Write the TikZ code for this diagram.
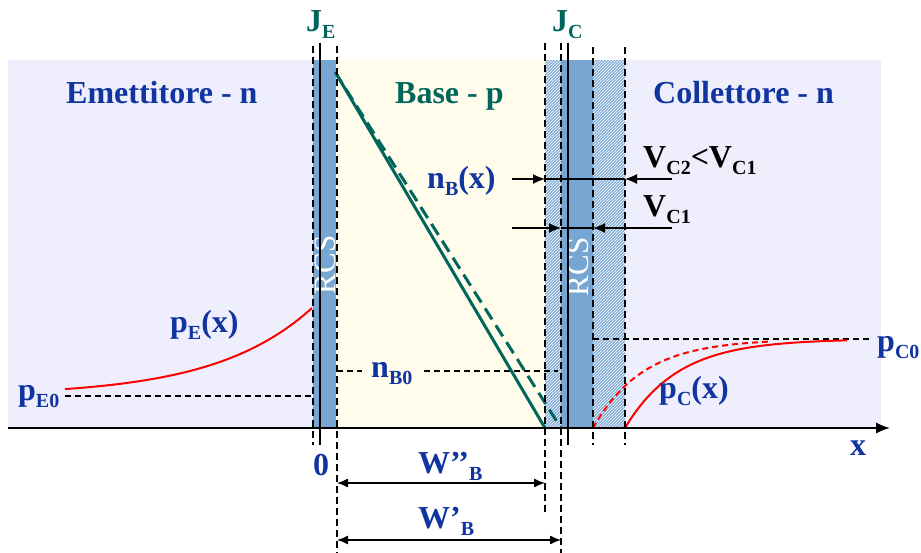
\documentclass[tikz,border=0pt]{standalone}
\usepackage{fontspec}
\setmainfont{Liberation Serif}
\usetikzlibrary{arrows.meta,patterns}
\definecolor{lav}{RGB}{238,238,252}
\definecolor{cream}{RGB}{255,252,236}
\definecolor{band}{RGB}{120,166,210}
\definecolor{hatchbg}{RGB}{135,175,218}
\definecolor{tblue}{RGB}{16,52,160}
\definecolor{teal}{RGB}{0,102,92}
\newcommand\lsub[1]{\raisebox{-7pt}{\fontsize{20}{20}\selectfont #1}}
\tikzset{
  lbl/.style={anchor=base west,inner sep=0pt,font=\fontsize{32}{36}\selectfont\bfseries},
  vdash/.style={line width=2.2pt,dash pattern=on 7pt off 4pt},
  hdash/.style={line width=1.8pt,dash pattern=on 6pt off 4pt},
  solidv/.style={line width=1.5pt},
  dimarrow/.style={line width=1.3pt,{Latex[length=11pt,width=9pt]}-{Latex[length=11pt,width=9pt]}},
  tip/.style={line width=1.3pt,-{Latex[length=12pt,width=10pt]}},
  rcs/.style={white,inner sep=0pt,rotate=90,font=\fontsize{31}{31}\selectfont}
}
\begin{document}
\begin{tikzpicture}[x=1pt,y=-1pt]
\useasboundingbox (0,0) rectangle (921,553);
\fill[white] (0,0) rectangle (921,553);
% backgrounds
\fill[lav] (8,60) rectangle (881,428);
\fill[cream] (336,60) rectangle (545,428);
\fill[band] (313,60) rectangle (336,428);
\fill[band] (561,60) rectangle (593,428);
\fill[hatchbg] (545,60) rectangle (561,428);
\fill[hatchbg] (593,60) rectangle (625,428);
\fill[pattern=north east lines,pattern color=white] (545,60) rectangle (561,428);
\fill[pattern=north east lines,pattern color=white] (593,60) rectangle (625,428);
% RCS labels
\node[rcs] (rcsE) at (325,265) {RCS};
\node[rcs] (rcsC) at (578,267) {RCS};
% horizontal reference dashed lines
\draw[hdash] (65,396) -- (312,396);
\draw[hdash] (337,371) -- (362,371);
\draw[hdash] (424,371) -- (558,371);
\draw[hdash] (593,339) -- (872,339);
% green profiles
\draw[teal,line width=3pt] (337,75) -- (545,428);
\draw[teal,line width=3pt,dash pattern=on 13pt off 7pt] (335,72) -- (561,428);
% red curves
\draw[red,line width=2pt] plot[domain=65:312,samples=60] (\x,{396-88*exp((\x-312)/97)});
\draw[red,line width=2pt] plot[domain=625:847,samples=60] (\x,{339+89*exp(-(\x-625)/53)});
\draw[red,line width=2pt,dash pattern=on 6pt off 4pt] plot[domain=593:770,samples=60] (\x,{339+89*exp(-(\x-593)/50)});
% axis
\coordinate (ax0) at (8,428);
\coordinate (ax1) at (890,428);
\draw[line width=1.5pt,-{Latex[length=14pt,width=11pt]}] (ax0) -- (ax1);
% vertical lines
\draw[vdash] (313,46) -- (313,445);
\draw[solidv] (320,43) -- (320,445);
\draw[vdash] (337,46) -- (337,553);
\draw[vdash] (545,43) -- (545,515);
\draw[vdash] (561,43) -- (561,553);
\draw[solidv] (568,43) -- (568,445);
\draw[vdash] (593,47) -- (593,445);
\draw[vdash] (625,47) -- (625,445);
% V arrows
\coordinate (a1l) at (512,179); \coordinate (a1a) at (545,179);
\coordinate (a1b) at (625,179); \coordinate (a1r) at (672,179);
\draw[tip] (a1l) -- (a1a);
\draw[line width=1.3pt] (a1a) -- (a1b);
\draw[tip] (a1r) -- (a1b);
\coordinate (a2l) at (512,228); \coordinate (a2a) at (561,228);
\coordinate (a2b) at (593,228); \coordinate (a2r) at (672,228);
\draw[tip] (a2l) -- (a2a);
\draw[line width=1.3pt] (a2a) -- (a2b);
\draw[tip] (a2r) -- (a2b);
% dimension arrows
\coordinate (w1a) at (337,483); \coordinate (w1b) at (545,483);
\coordinate (w2a) at (337,540); \coordinate (w2b) at (561,540);
\draw[dimarrow] (w1a) -- (w1b);
\draw[dimarrow] (w2a) -- (w2b);
% labels
\node[lbl,teal] (je) at (306,32) {J\lsub{E}};
\node[lbl,teal] (jc) at (552,32) {J\lsub{C}};
\node[lbl,tblue] (em) at (66,104) {Emettitore - n};
\node[lbl,teal] (ba) at (395,104) {Base - p};
\node[lbl,tblue] (co) at (653,104) {Collettore - n};
\node[lbl,tblue] (nb) at (427,189) {n\lsub{B}(x)};
\node[lbl] (vc2) at (643,168) {V\lsub{C2}<V\lsub{C1}};
\node[lbl] (vc1) at (643,217) {V\lsub{C1}};
\node[lbl,tblue] (nb0) at (371,377) {n\lsub{B0}};
\node[lbl,tblue] (pe0) at (18,400) {p\lsub{E0}};
\node[lbl,tblue] (pe) at (170,333) {p\lsub{E}(x)};
\node[lbl,tblue] (pc) at (659,398) {p\lsub{C}(x)};
\node[lbl,tblue] (pc0) at (877,352) {p\lsub{C0}};
\node[lbl,tblue] (xl) at (850,455) {x};
\node[lbl,tblue] (zero) at (313,475) {0};
\node[lbl,tblue] (wb2) at (418,473) {W’’\lsub{B}};
\node[lbl,tblue] (wb1) at (418,528) {W’\lsub{B}};
\end{tikzpicture}
\end{document}
